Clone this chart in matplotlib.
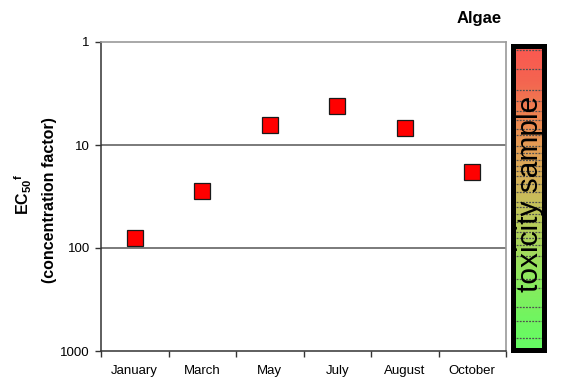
"""Algae EC50 by sampling month, with a toxicity colour scale beside it."""

import matplotlib
matplotlib.use("Agg")
import matplotlib.pyplot as plt
from matplotlib.colors import LinearSegmentedColormap
from matplotlib.ticker import FixedLocator, NullFormatter, NullLocator
import numpy as np

plt.rcParams["font.family"] = ["Liberation Sans", "DejaVu Sans"]
plt.rcParams["mathtext.fontset"] = "custom"
plt.rcParams["mathtext.rm"] = "Liberation Sans"
plt.rcParams["mathtext.bf"] = "Liberation Sans:bold"

months = ["January", "March", "May", "July", "August", "October"]
ec50 = [80, 28, 6.4, 4.2, 6.8, 18.3]
y_ticks = [1, 10, 100, 1000]
y_tick_labels = ["1", "10", "100", "1000"]
grid_levels = [10, 100]

# reference EC50 levels marked on the toxicity scale
scale_levels = [1.2, 1.83, 2.9, 3.75, 4.65, 5.7, 6.95, 8.05, 10.2, 12.0, 14.0,
                15.9, 17.9, 20.0, 23.9, 28.6, 35.5, 39.7, 46.8, 56.3, 69.5,
                79.4, 93.5, 120, 201, 246, 376, 508, 753]
scale_colors = ["#fc5850", "#f46450", "#ee8250", "#e49e55", "#d4b25a",
                "#bec85a", "#a6d85c", "#8aea5e", "#72f560", "#64fd64"]

W, H = 561, 380
fig = plt.figure(figsize=(W / 100, H / 100), dpi=100)


def rect(x0, y0, x1, y1):
    return [x0 / W, 1 - y1 / H, (x1 - x0) / W, (y1 - y0) / H]


ax = fig.add_axes(rect(101, 42, 506, 351))
x = np.arange(len(months))
ax.plot(x, ec50, linestyle="none", marker="s", markersize=11.5,
        markerfacecolor="#ff0000", markeredgecolor="#1a1a1a",
        markeredgewidth=0.9, zorder=3)

ax.set_yscale("log")
ax.set_ylim(1000, 1)
ax.yaxis.set_major_locator(FixedLocator(y_ticks))
ax.set_yticklabels(y_tick_labels)
ax.yaxis.set_minor_locator(NullLocator())
for level in grid_levels:
    ax.axhline(level, color="#7a7a7a", linewidth=1.4, zorder=1)

ax.set_xlim(-0.5, len(months) - 0.5)
ax.set_xticks(np.arange(len(months) + 1) - 0.5)
ax.xaxis.set_major_formatter(NullFormatter())
ax.set_xticks(x, minor=True)
ax.set_xticklabels(months, minor=True)
ax.tick_params(axis="x", which="major", length=4, width=1, color="#333333")
ax.tick_params(axis="x", which="minor", length=0, pad=10, labelsize=9.5)
ax.tick_params(axis="y", which="major", length=4, width=1, color="#333333",
               pad=4, labelsize=9.5)

for side in ("left", "bottom"):
    ax.spines[side].set_color("#333333")
    ax.spines[side].set_linewidth(1.1)
for side in ("top", "right"):
    ax.spines[side].set_color("#9a9a9a")
    ax.spines[side].set_linewidth(1.2)

fig.text(23 / W, 1 - 194 / H, r"EC$_{\mathbf{50}}$$^{\mathbf{f}}$",
         rotation=90, ha="center", va="center", fontsize=11.5,
         fontweight="bold")
fig.text(50 / W, 1 - 200 / H, "(concentration factor)", rotation=90,
         ha="center", va="center", fontsize=11.5, fontweight="bold")
fig.text(479 / W, 1 - 18 / H, "Algae", ha="center", va="center",
         fontsize=12, fontweight="bold")

# toxicity colour scale
cax = fig.add_axes(rect(512.5, 45.5, 543.5, 349.5))
cmap = LinearSegmentedColormap.from_list("tox", scale_colors)
gradient = np.linspace(0, 1, 256).reshape(-1, 1)
cax.imshow(gradient, cmap=cmap, aspect="auto", extent=(0, 1, 0, 1),
           transform=cax.transAxes, origin="upper", interpolation="bilinear")
cax.set_yscale("log")
cax.set_ylim(970, 1.08)
cax.set_xlim(0, 1)
cax.hlines(scale_levels, 0, 1, colors="#505050", linewidth=0.9,
           linestyles=(0, (1.5, 1)), zorder=2)
cax.set_xticks([])
cax.set_yticks([])
cax.yaxis.set_minor_locator(NullLocator())
for spine in cax.spines.values():
    spine.set_color("black")
    spine.set_linewidth(3.6)
cax.text(0.56, 0.512, "toxicity sample", rotation=90, ha="center",
         va="center", fontsize=21.5, transform=cax.transAxes, zorder=3)

fig.savefig("out.png", dpi=100)
